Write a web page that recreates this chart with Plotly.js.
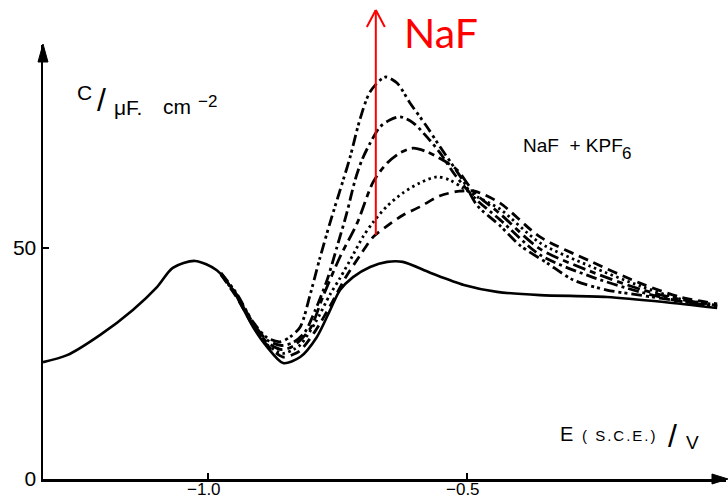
<!DOCTYPE html>
<html><head><meta charset="utf-8">
<script src="https://cdn.plot.ly/plotly-3.0.1.min.js"></script>
<style>html,body{margin:0;padding:0;background:#fff;} #chart{width:728px;height:499px;}</style>
</head><body><div id="chart"></div>
<script>
// ---- data (E / V vs SCE, C / µF cm^-2) ----
const potBase = [-1.3185,-1.272,-1.208,-1.145,-1.098,-1.068,-1.025,-0.983,-0.952,-0.913,-0.886,-0.855,-0.822,-0.790,-0.764,-0.745,-0.720,-0.687,-0.654,-0.624,-0.570,-0.506,-0.442,-0.359,-0.230,-0.120,-0.017];
const capBase = [25.3,26.8,31.2,36.6,41.6,45.7,47.2,45.2,40.9,32.9,28.6,25.1,26.4,30.7,36.6,40.9,43.7,45.9,47.0,47.0,44.6,42.0,40.5,39.8,39.4,38.3,37.0];

const potA = [-0.975,-0.945,-0.913,-0.886,-0.861,-0.842,-0.822,-0.803,-0.784,-0.764,-0.739,-0.726,-0.707,-0.687,-0.658,-0.635,-0.610,-0.577,-0.552,-0.506,-0.481,-0.436,-0.398,-0.346,-0.295,-0.230,-0.166,-0.089,-0.017];
const capA = [44.6,40.2,34.0,30.6,29.7,30.7,32.9,39.8,47.8,55.6,64.7,69.5,77.7,83.8,87.0,85.7,81.4,76.2,71.9,64.3,59.3,54.8,50.6,46.8,43.1,40.9,39.8,38.5,37.3];

const potB = [-0.975,-0.945,-0.913,-0.886,-0.858,-0.835,-0.813,-0.793,-0.770,-0.751,-0.732,-0.716,-0.703,-0.687,-0.668,-0.649,-0.629,-0.604,-0.577,-0.552,-0.523,-0.485,-0.436,-0.359,-0.263,-0.166,-0.089,-0.017];
const capB = [44.5,40.0,33.8,30.1,28.9,29.6,31.8,36.5,43.1,50.2,57.6,64.7,69.0,72.7,76.2,77.7,78.4,77.1,74.0,70.6,65.8,60.8,56.1,48.5,43.9,40.5,38.5,37.4];

const potC = [-0.975,-0.945,-0.913,-0.886,-0.857,-0.835,-0.803,-0.778,-0.745,-0.712,-0.681,-0.654,-0.629,-0.604,-0.577,-0.546,-0.519,-0.485,-0.436,-0.359,-0.263,-0.166,-0.089,-0.017];
const capC = [44.4,39.8,33.6,29.6,28.0,28.8,32.5,39.5,48.1,55.4,64.3,68.4,70.6,71.6,70.8,69.0,66.9,61.9,57.4,49.8,45.0,41.1,38.9,37.6];

const potD = [-0.975,-0.945,-0.913,-0.886,-0.856,-0.835,-0.822,-0.793,-0.764,-0.745,-0.720,-0.701,-0.681,-0.654,-0.624,-0.591,-0.558,-0.533,-0.508,-0.479,-0.436,-0.359,-0.263,-0.166,-0.089,-0.017];
const capD = [44.3,39.6,33.4,29.1,27.2,28.0,29.0,33.8,40.0,43.5,48.5,52.4,55.6,59.1,61.9,64.1,65.4,64.7,63.0,61.0,58.4,51.1,46.1,41.8,39.0,37.7];

const potE = [-0.975,-0.945,-0.913,-0.886,-0.855,-0.835,-0.822,-0.793,-0.764,-0.735,-0.707,-0.681,-0.654,-0.624,-0.591,-0.552,-0.514,-0.485,-0.436,-0.359,-0.263,-0.166,-0.089,-0.017];
const capE = [44.2,39.4,33.2,29.0,26.4,27.0,27.8,32.0,37.5,43.5,48.3,52.4,54.8,57.1,58.9,61.3,62.3,62.3,59.7,52.4,47.2,42.4,39.4,37.9];

const xTickVals = [-1.0, -0.5];
const xTickText = ['−1.0', '−0.5'];
const yTickVals = [0, 50];
const yTickText = ['0', '50'];

const arrowPot = -0.676;          // red NaF arrow position
const arrowCap = [52.8, 101.5];   // from / to

// ---- layout geometry ----
const W=728, H=499, L=43, R=2, T=45, B=20;
const PW=W-L-R, PH=H-T-B;
const X_MIN=-1.3185, X_MAX=X_MIN+PW/518;
const Y_MIN=0, Y_MAX=PH/4.62;
const px = p => (p-L)/PW;
const py = p => (H-B-p)/PH;
const dxp = e => (e-X_MIN)/(X_MAX-X_MIN);
const dyp = c => (c-Y_MIN)/(Y_MAX-Y_MIN);

const FONT = 'Liberation Sans, Arial, sans-serif';

function tr(x, y, dash, w){
  return {x:x, y:y, type:'scatter', mode:'lines', showlegend:false, hoverinfo:'skip',
    line:{color:'#000', width:w, dash:dash, shape:'spline', smoothing:0.8}};
}
const data = [
  tr(potE, capE, '10px,6px', 2.8),
  tr(potD, capD, '2.5px,3.5px', 2.8),
  tr(potC, capC, '13px,5px,6px,5px', 2.8),
  tr(potB, capB, '11px,4px,3px,4px', 2.8),
  tr(potA, capA, '11px,4px,3px,3px,3px,4px', 2.8),
  tr(potBase, capBase, 'solid', 2.6)
];

const ax0 = dxp(arrowPot), ayTop = dyp(arrowCap[1]), ayBot = dyp(arrowCap[0]);
function tri(p){ // p: list of pixel points -> paper path
  return 'M' + p.map(q => px(q[0]).toFixed(5)+','+py(q[1]).toFixed(5)).join(' L') + ' Z';
}
const shapes = [
  {type:'line', xref:'paper', yref:'paper', x0:ax0, x1:ax0, y0:ayBot, y1:ayTop, line:{color:'#ff0000', width:2}},
  {type:'line', xref:'paper', yref:'paper', x0:ax0, x1:ax0-9/PW, y0:ayTop, y1:ayTop-17/PH, line:{color:'#ff0000', width:2}},
  {type:'line', xref:'paper', yref:'paper', x0:ax0, x1:ax0+9/PW, y0:ayTop, y1:ayTop-17/PH, line:{color:'#ff0000', width:2}},
  // axis arrowheads
  {type:'path', xref:'paper', yref:'paper', path:tri([[43,44],[38,62],[48,62]]), fillcolor:'#000', line:{color:'#000', width:1}},
  {type:'path', xref:'paper', yref:'paper', path:tri([[728,479],[712,474],[712,484]]), fillcolor:'#000', line:{color:'#000', width:1}}
];

function txt(t, xp, yp, size, anchor, extra){
  return Object.assign({xref:'paper', yref:'paper', x:px(xp), y:py(yp), xanchor:anchor||'left', yanchor:'middle',
    text:t, showarrow:false, font:{family:FONT, size:size, color:'#000'}}, extra||{});
}
const annotations = [
  // y-axis title
  txt('C', 84, 93, 21, 'center'),
  txt('/', 101, 100, 32, 'center'),
  txt('μF.', 112, 107, 21, 'left'),
  txt('cm', 161, 106, 21, 'left'),
  txt('−2', 196, 101, 17, 'left'),
  // x-axis title
  txt('E', 566, 434, 20, 'center'),
  txt('<span style="letter-spacing:2px">( S.C.E.)</span>', 580, 435, 15, 'left'),
  txt('/', 672, 436, 32, 'center'),
  txt('V', 692, 442, 19, 'center'),
  // series label
  txt('NaF&nbsp;&nbsp;+ KPF', 521, 145, 19, 'left'),
  txt('6', 626, 153, 17, 'center'),
  // red label
  txt('NaF', 402, 33, 41, 'left', {font:{family:'Lato, Liberation Sans, sans-serif', size:41, color:'#ff0000'}})
];
// x tick labels placed on the x scale
xTickVals.forEach((v,i) => annotations.push({xref:'x', yref:'paper', x:v, y:py(489), xanchor:'center', yanchor:'middle',
  xshift:-4, text:xTickText[i], showarrow:false, font:{family:FONT, size:17, color:'#000'}}));

const axisCommon = {showline:true, linecolor:'#000', linewidth:2.5, ticks:'inside', ticklen:6, tickwidth:2,
  tickcolor:'#000', showgrid:false, zeroline:false, fixedrange:true,
  tickfont:{family:FONT, size:21, color:'#000'}};

const layout = {
  width:W, height:H, margin:{l:L, r:R, t:T, b:B, pad:0},
  paper_bgcolor:'#fff', plot_bgcolor:'#fff',
  xaxis:Object.assign({}, axisCommon, {range:[X_MIN, X_MAX], tickmode:'array', tickvals:xTickVals, ticktext:xTickText, showticklabels:false}),
  yaxis:Object.assign({}, axisCommon, {range:[Y_MIN, Y_MAX], tickmode:'array', tickvals:yTickVals, ticktext:yTickText}),
  shapes:shapes, annotations:annotations
};
Plotly.newPlot('chart', data, layout, {displayModeBar:false, staticPlot:true});
</script>
</body></html>
